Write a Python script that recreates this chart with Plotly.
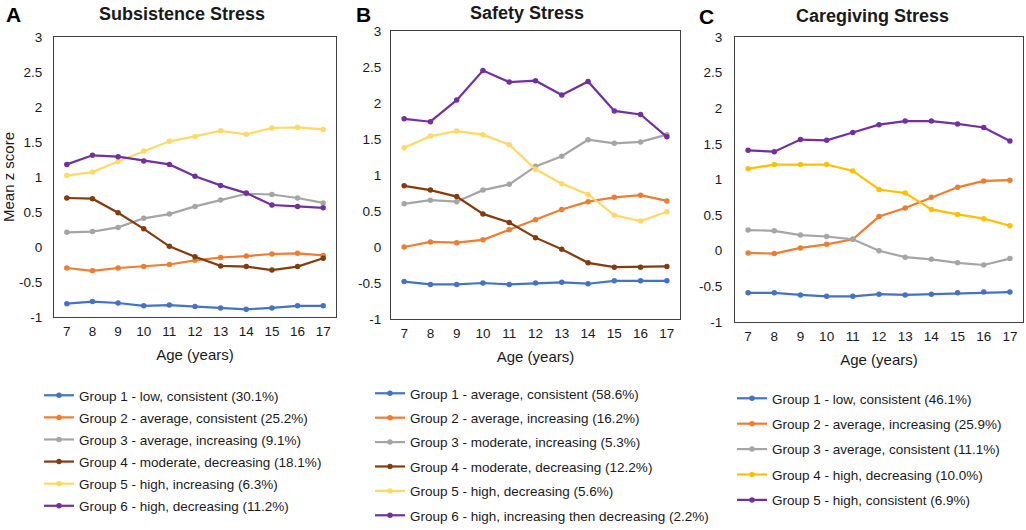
import plotly.graph_objects as go

W, H = 1026, 530

ages = [7, 8, 9, 10, 11, 12, 13, 14, 15, 16, 17]
y_tickvals = [-1, -0.5, 0, 0.5, 1, 1.5, 2, 2.5, 3]
y_ticktext = ["-1", "-0.5", "0", "0.5", "1", "1.5", "2", "2.5", "3"]

# Panel A - Subsistence Stress
a_names = [
    "Group 1 - low, consistent (30.1%)",
    "Group 2 - average, consistent (25.2%)",
    "Group 3 - average, increasing (9.1%)",
    "Group 4 - moderate, decreasing (18.1%)",
    "Group 5 - high, increasing (6.3%)",
    "Group 6 - high, decreasing (11.2%)",
]
a_g1 = [-0.81, -0.78, -0.80, -0.84, -0.83, -0.85, -0.87, -0.89, -0.87, -0.84, -0.84]
a_g2 = [-0.30, -0.34, -0.30, -0.28, -0.25, -0.19, -0.15, -0.13, -0.10, -0.09, -0.12]
a_g3 = [0.21, 0.22, 0.28, 0.41, 0.47, 0.58, 0.67, 0.76, 0.75, 0.70, 0.63]
a_g4 = [0.70, 0.69, 0.49, 0.26, 0.01, -0.14, -0.27, -0.28, -0.33, -0.28, -0.16]
a_g5 = [1.02, 1.07, 1.22, 1.37, 1.51, 1.58, 1.66, 1.61, 1.70, 1.71, 1.68]
a_g6 = [1.18, 1.31, 1.29, 1.23, 1.18, 1.01, 0.88, 0.77, 0.60, 0.58, 0.56]

# Panel B - Safety Stress
b_names = [
    "Group 1 - average, consistent (58.6%)",
    "Group 2 - average, increasing (16.2%)",
    "Group 3 - moderate, increasing (5.3%)",
    "Group 4 - moderate, decreasing (12.2%)",
    "Group 5 - high, decreasing (5.6%)",
    "Group 6 - high, increasing then decreasing (2.2%)",
]
b_g1 = [-0.48, -0.52, -0.52, -0.50, -0.52, -0.50, -0.49, -0.51, -0.47, -0.47, -0.47]
b_g2 = [0.00, 0.07, 0.06, 0.10, 0.24, 0.38, 0.52, 0.63, 0.69, 0.72, 0.64]
b_g3 = [0.60, 0.65, 0.63, 0.79, 0.87, 1.12, 1.26, 1.49, 1.44, 1.46, 1.56]
b_g4 = [0.85, 0.79, 0.70, 0.46, 0.34, 0.13, -0.03, -0.22, -0.28, -0.28, -0.27]
b_g5 = [1.38, 1.54, 1.61, 1.56, 1.42, 1.08, 0.88, 0.73, 0.44, 0.36, 0.49]
b_g6 = [1.78, 1.74, 2.04, 2.45, 2.29, 2.31, 2.11, 2.30, 1.89, 1.84, 1.53]

# Panel C - Caregiving Stress
c_names = [
    "Group 1 - low, consistent (46.1%)",
    "Group 2 - average, increasing (25.9%)",
    "Group 3 - average, consistent (11.1%)",
    "Group 4 - high, decreasing (10.0%)",
    "Group 5 - high, consistent (6.9%)",
]
c_g1 = [-0.59, -0.59, -0.62, -0.64, -0.64, -0.61, -0.62, -0.61, -0.59, -0.58, -0.58]
c_g2 = [-0.03, -0.04, 0.04, 0.09, 0.16, 0.48, 0.60, 0.75, 0.89, 0.98, 0.99]
c_g3 = [0.29, 0.28, 0.22, 0.20, 0.16, 0.00, -0.09, -0.12, -0.17, -0.20, -0.11]
c_g4 = [1.15, 1.21, 1.21, 1.21, 1.12, 0.86, 0.81, 0.58, 0.51, 0.45, 0.35]
c_g5 = [1.41, 1.39, 1.56, 1.55, 1.66, 1.77, 1.82, 1.82, 1.78, 1.73, 1.54]

ab_colors = ["#4472C4", "#ED7D31", "#A5A5A5", "#843C0C", "#FFD966", "#7030A0"]
c_colors = ["#4472C4", "#ED7D31", "#A5A5A5", "#FFC000", "#7030A0"]

FONT = "Liberation Sans, Arial, sans-serif"
TXT = "#1a1a1a"

def px_x(p):
    return p / W

def px_y(p):
    return 1 - p / H

panels = [
    dict(key="", names=a_names, series=[a_g1, a_g2, a_g3, a_g4, a_g5, a_g6], colors=ab_colors,
         box=(54, 336, 37, 317), legend="legend", leg_xy=(39, 380), gap=1.55, yticklen=8,
         title="Subsistence Stress", title_xy=(182, 14), letter="A", letter_xy=(13, 15)),
    dict(key="2", names=b_names, series=[b_g1, b_g2, b_g3, b_g4, b_g5, b_g6], colors=ab_colors,
         box=(391, 680, 31, 319), legend="legend2", leg_xy=(370, 378), gap=3.85, yticklen=6,
         title="Safety Stress", title_xy=(527, 13), letter="B", letter_xy=(363, 15)),
    dict(key="3", names=c_names, series=[c_g1, c_g2, c_g3, c_g4, c_g5], colors=c_colors,
         box=(735, 1023, 37, 322), legend="legend3", leg_xy=(732, 383), gap=4.85, yticklen=9,
         title="Caregiving Stress", title_xy=(872, 16), letter="C", letter_xy=(706, 17)),
]

fig = go.Figure()
annotations = []
layout = dict(
    width=W, height=H, margin=dict(l=0, r=0, t=0, b=0, autoexpand=False),
    paper_bgcolor="white", plot_bgcolor="white",
    font=dict(family=FONT, color=TXT, size=13),
    showlegend=True,
)

for i, p in enumerate(panels):
    k = p["key"]
    for j, (name, ys, col) in enumerate(zip(p["names"], p["series"], p["colors"])):
        fig.add_trace(go.Scatter(
            x=ages, y=ys, name=name, mode="lines+markers",
            line=dict(color=col, width=2.2),
            marker=dict(color=col, size=5.5, symbol="circle"),
            xaxis="x" + k, yaxis="y" + k,
            legend=p["legend"], legendgroup=f"p{i}g{j}",
        ))
    x0, x1, y0, y1 = p["box"]
    layout["xaxis" + k] = dict(
        domain=[px_x(x0), px_x(x1)], anchor="y" + k, automargin=False,
        range=[6.5, 17.5], tickvals=ages, ticktext=[str(a) for a in ages],
        showgrid=False, zeroline=False, showline=True, linecolor="#404040", linewidth=1,
        mirror=True, ticks="outside", ticklen=2, tickcolor="rgba(0,0,0,0)",
        tickfont=dict(size=13.5, color=TXT, family=FONT),
        title=dict(text="Age (years)", font=dict(size=15, color=TXT, family=FONT), standoff=11),
        fixedrange=True,
    )
    layout["yaxis" + k] = dict(
        domain=[px_y(y1), px_y(y0)], anchor="x" + k, automargin=False,
        range=[-1, 3], tickvals=y_tickvals, ticktext=y_ticktext,
        showgrid=False, zeroline=False, showline=True, linecolor="#404040", linewidth=1,
        mirror=True, ticks="outside", ticklen=p["yticklen"], tickcolor="rgba(0,0,0,0)",
        tickfont=dict(size=13.5, color=TXT, family=FONT),
        fixedrange=True,
    )
    if i == 0:
        layout["yaxis"]["title"] = dict(text="Mean z score", font=dict(size=15, color=TXT, family=FONT), standoff=0)
    lx, ly = p["leg_xy"]
    layout[p["legend"]] = dict(
        x=px_x(lx), y=px_y(ly), xanchor="left", yanchor="top",
        orientation="v", font=dict(size=13.5, color=TXT, family=FONT),
        bgcolor="rgba(0,0,0,0)", borderwidth=0, tracegroupgap=p["gap"],
        itemwidth=30, traceorder="grouped",
    )
    tx, ty = p["title_xy"]
    annotations.append(dict(
        text="<b>" + p["title"] + "</b>", x=px_x(tx), y=px_y(ty), xref="paper", yref="paper",
        xanchor="center", yanchor="middle", showarrow=False,
        font=dict(size=18, color=TXT, family=FONT),
    ))
    lx2, ly2 = p["letter_xy"]
    annotations.append(dict(
        text="<b>" + p["letter"] + "</b>", x=px_x(lx2), y=px_y(ly2), xref="paper", yref="paper",
        xanchor="center", yanchor="middle", showarrow=False,
        font=dict(size=21, color="black", family=FONT),
    ))

layout["annotations"] = annotations
fig.update_layout(**layout)
# let the 1026x530 figure fill the window exactly (no default page margin)
fig.write_html(
    "out.html",
    config={"displayModeBar": False, "staticPlot": True},
    post_script="document.body.style.margin='0px';document.body.style.overflow='hidden';",
)
